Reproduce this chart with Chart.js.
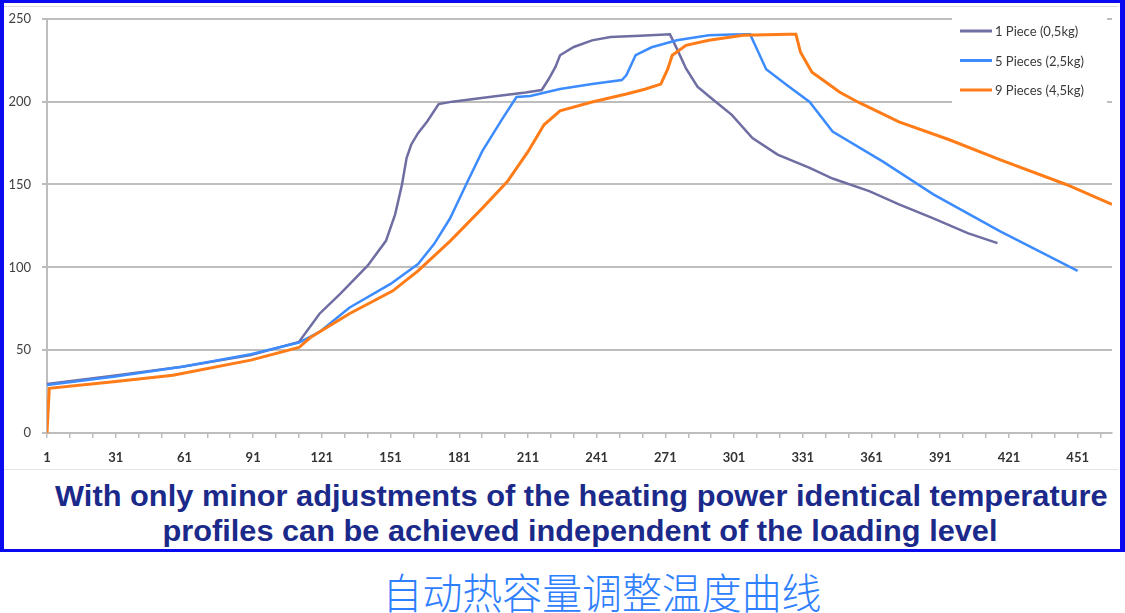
<!DOCTYPE html>
<html>
<head>
<meta charset="utf-8">
<script src="https://cdn.jsdelivr.net/npm/chart.js@4"></script>
<style>
  body { margin: 0; background: #fff; width: 1125px; height: 613px; overflow: hidden; position: relative; }
  #frame { position: absolute; left: 0; top: 0; width: 1125px; height: 552px; box-sizing: border-box;
           border-style: solid; border-color: #0a0af0; border-width: 3px 5px 3px 4px; }
  #inner { position: absolute; left: 4px; top: 6px; width: 1114px; height: 462px;
           border-top: 1px solid #dcdcdc; border-bottom: 1px solid #e4e4e4; }
  #wrap { position: absolute; left: 0; top: 0; width: 1125px; height: 470px; }
  .txt { position: absolute; white-space: nowrap; transform-origin: center; }
  .en { font: bold 29px "Liberation Sans", Arial, sans-serif; color: #1b2a8a; line-height: 32px; }
  .cn { font: 300 42px "Noto Sans CJK SC", sans-serif; color: #2f80ff; line-height: 46px; }
</style>
</head>
<body>
<div id="frame"></div>
<div id="inner"></div>
<div id="wrap"><canvas id="c"></canvas></div>
<span class="txt en" data-cx="581" data-w="1053" style="top:480px">With only minor adjustments of the heating power identical temperature</span>
<span class="txt en" data-cx="580" data-w="835" style="top:515px">profiles can be achieved independent of the loading level</span>
<span class="txt cn" data-cx="602" data-w="439" style="top:568px">自动热容量调整温度曲线</span>
<script>
// series labels
const seriesNames = ["1 Piece (0,5kg)", "5 Pieces (2,5kg)", "9 Pieces (4,5kg)"];
const seriesColors = ["#6e6ea2", "#3d8cff", "#ff7c18"];

// 1 piece
const p1X = [1, 30, 60, 90, 111, 120, 129, 141, 149, 153, 156, 158, 160, 163, 167, 172, 178, 195, 210, 217, 220, 223, 225, 231, 239, 247, 260, 273, 276, 280, 285, 292, 300, 309, 320, 334, 344, 360, 373, 388, 403, 416];
const p1Y = [29.5, 34.5, 40, 47, 55, 72, 84, 101, 116, 132, 150, 166, 174, 181, 188, 198.5, 200, 203, 205.5, 207, 213.5, 221, 228, 233, 237, 239, 239.8, 240.6, 232, 220, 209, 201, 192, 178, 168, 160, 153.6, 146, 138, 129.5, 120.6, 114.6];

// 5 pieces
const p5X = [1, 30, 60, 90, 111, 120, 133, 151, 163, 170, 177, 184, 191, 200, 206, 212, 225, 239, 252, 254, 258, 265, 276, 290, 300, 308, 311, 315, 324, 334, 344, 366, 388, 417, 451];
const p5Y = [29, 34, 40, 47.5, 54.6, 61, 75.6, 90, 102, 114, 129.6, 150, 170, 190, 202.8, 203.4, 207.6, 210.6, 213, 216, 228, 232.8, 237, 240, 240.5, 240.6, 231.6, 219.6, 210, 199.8, 182, 163.8, 144, 121.8, 97.8];

// 9 pieces
const p9X = [1, 2, 30, 56, 90, 111, 116, 133, 152, 163, 177, 191, 202, 211, 218, 225, 239, 254, 262, 269, 272, 274, 280, 290, 305, 315, 325, 328, 330, 335, 341, 347, 355, 373, 395, 417, 446, 466];
const p9Y = [0, 27, 31, 34.8, 44, 51.6, 57.6, 72, 85.8, 97.8, 115.8, 135.6, 151.8, 169.8, 186, 194.5, 199.8, 204.6, 207.5, 210.6, 219.6, 228, 234, 237, 240, 240.3, 240.6, 240.6, 229.8, 217.8, 211.8, 205.8, 199.8, 187.8, 177, 165, 150, 138];

const xTickLabels = [1, 31, 61, 91, 121, 151, 181, 211, 241, 271, 301, 331, 361, 391, 421, 451];
const yTicks = [0, 50, 100, 150, 200, 250];

function pts(xs, ys) {
	return xs.map((x, i) => ({ x: x, y: ys[i] }));
}

const gridColor = "#bdbdbd";

// legend drawn inside the plot, top right, on a white box
const boxLegend = {
	id: "boxLegend",
	afterDatasetsDraw(chart) {
		const ctx = chart.ctx;
		const area = chart.chartArea;
		const left = area.right - 160;
		ctx.save();
		ctx.fillStyle = "#fff";
		ctx.fillRect(left, area.top - 4, 155, 96);
		ctx.font = "13px Lato, 'Open Sans', sans-serif";
		ctx.textBaseline = "middle";
		chart.data.datasets.forEach((ds, i) => {
			const y = 31 + i * 29.5;
			ctx.strokeStyle = ds.borderColor;
			ctx.lineWidth = 3;
			ctx.beginPath();
			ctx.moveTo(left + 8, y);
			ctx.lineTo(left + 40, y);
			ctx.stroke();
			ctx.fillStyle = "#3a3a3a";
			ctx.fillText(ds.label, left + 43, y + 1);
		});
		ctx.restore();
	},
};

// orange on top, then blue, purple underneath
const datasets = [
	{ label: seriesNames[0], data: pts(p1X, p1Y), borderColor: seriesColors[0], borderWidth: 2.5, order: 2 },
	{ label: seriesNames[1], data: pts(p5X, p5Y), borderColor: seriesColors[1], borderWidth: 2.5, order: 1 },
	{ label: seriesNames[2], data: pts(p9X, p9Y), borderColor: seriesColors[2], borderWidth: 3, order: 0 },
];
datasets.forEach((d) => {
	d.pointRadius = 0;
	d.tension = 0;
	d.fill = false;
	d.backgroundColor = d.borderColor;
});

new Chart(document.getElementById("c"), {
	type: "line",
	data: { datasets: datasets },
	options: {
		responsive: true,
		maintainAspectRatio: false,
		animation: false,
		layout: { padding: { top: 16, right: 13, bottom: 0, left: 0 } },
		plugins: { legend: { display: false }, tooltip: { enabled: false } },
		scales: {
			x: {
				type: "linear",
				min: 1,
				max: 466,
				afterBuildTicks: (axis) => {
					const t = [];
					for (let v = 1; v <= 461; v += 10) t.push({ value: v });
					axis.ticks = t;
				},
				afterFit: (axis) => { axis.height = 37; },
				grid: { drawOnChartArea: false, drawTicks: true, tickLength: 5, color: gridColor, lineWidth: 1.5 },
				border: { display: true, color: gridColor, width: 2 },
				ticks: {
					autoSkip: false,
					maxRotation: 0,
					padding: 12,
					color: "#333",
					font: { family: "Lato, 'Open Sans', sans-serif", size: 13, weight: "bold" },
					callback: (v) => (xTickLabels.includes(v) ? String(v) : ""),
				},
			},
			y: {
				min: 0,
				max: 250,
				afterBuildTicks: (axis) => { axis.ticks = yTicks.map((v) => ({ value: v })); },
				afterFit: (axis) => { axis.width = 47; },
				grid: { color: gridColor, lineWidth: 2, tickLength: 5 },
				border: { display: true, color: gridColor, width: 2 },
				ticks: {
					padding: 11,
					color: "#404040",
					font: { family: "Lato, 'Open Sans', sans-serif", size: 13 },
				},
			},
		},
	},
	plugins: [boxLegend],
});

// fit caption lines to the widths in the picture
document.querySelectorAll(".txt").forEach((el) => {
	const w = el.offsetWidth;
	const cx = +el.dataset.cx;
	const s = +el.dataset.w / w;
	el.style.left = (cx - w / 2) + "px";
	el.style.transform = "scaleX(" + s + ")";
});
</script>
</body>
</html>
